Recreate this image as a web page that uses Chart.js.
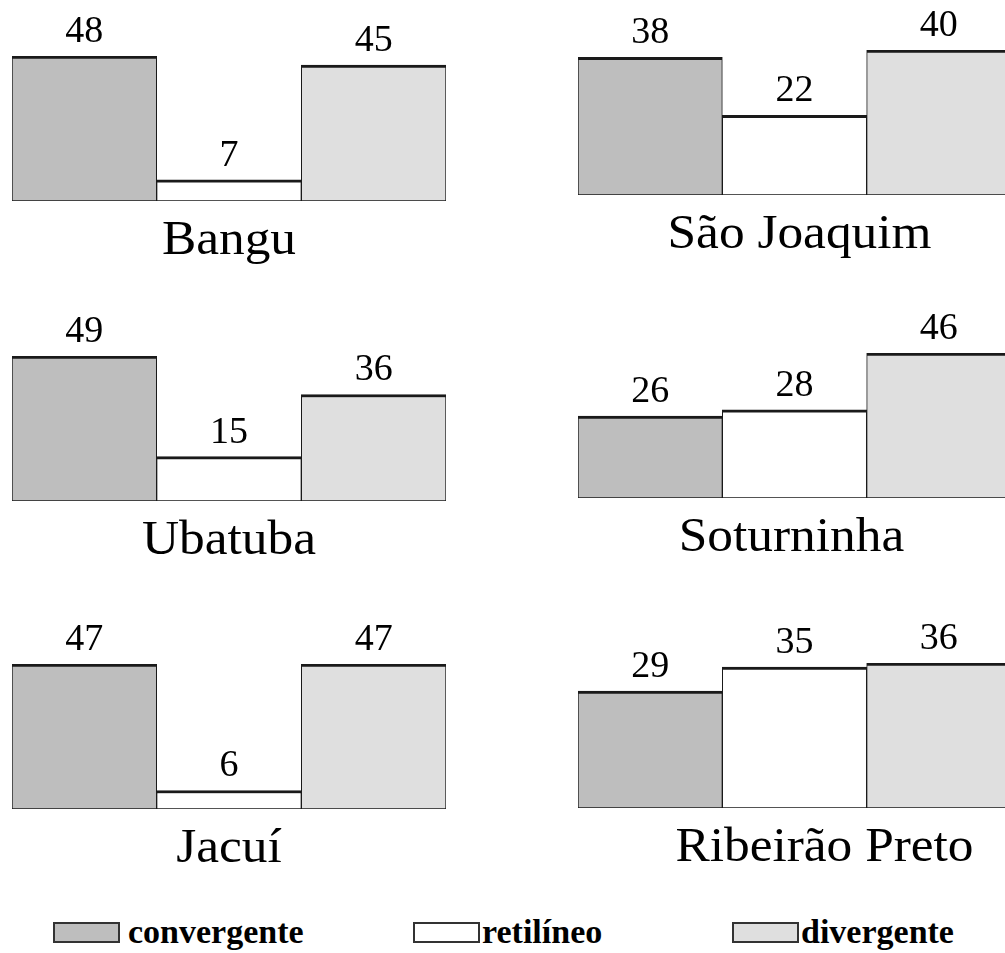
<!DOCTYPE html>
<html>
<head>
<meta charset="utf-8">
<script src="https://cdn.jsdelivr.net/npm/chart.js@4.4.1/dist/chart.umd.min.js"></script>
<style>
    html, body {
        margin: 0;
        padding: 0;
        background: #fff;
        width: 1005px;
        height: 953px;
        overflow: hidden;
        position: relative;
        font-family: "Liberation Serif", "Times New Roman", serif;
    }
    canvas { position: absolute; }
    .key {
        position: absolute;
        top: 922px;
        width: 63px;
        height: 17px;
        border: 2px solid #333;
    }
    .keytext {
        position: absolute;
        top: 912px;
        font-weight: bold;
        font-size: 34px;
        line-height: 40px;
        color: #000;
    }
</style>
</head>
<body>

<canvas id="p0" width="434" height="270"></canvas>
<canvas id="p1" width="433" height="270"></canvas>
<canvas id="p2" width="434" height="270"></canvas>
<canvas id="p3" width="433" height="270"></canvas>
<canvas id="p4" width="434" height="270"></canvas>
<canvas id="p5" width="433" height="270"></canvas>

<div class="key" style="left:53px;background:#bebebe"></div>
<div class="keytext" style="left:128px">convergente</div>
<div class="key" style="left:413px;background:#fff"></div>
<div class="keytext" style="left:482px">retilíneo</div>
<div class="key" style="left:732px;background:#dfdfdf"></div>
<div class="keytext" style="left:801px">divergente</div>

<script>
// dados por localidade
const cities = ["Bangu", "São Joaquim", "Ubatuba", "Soturninha", "Jacuí", "Ribeirão Preto"];
const categories = ["convergente", "retilíneo", "divergente"];
const convergente = [48, 38, 49, 26, 47, 29];
const retilineo = [7, 22, 15, 28, 6, 35];
const divergente = [45, 40, 36, 46, 47, 36];

const barColors = ["#bebebe", "#ffffff", "#dfdfdf"];

// posição de cada painel (esquerda, linha de base, deslocamento do nome)
const panelLeft = [12, 578, 12, 578, 12, 578];
const panelBase = [201, 195, 501, 498, 809, 808];
const nameShift = [0, 5, 0, -3, 0, 30];

const PAD_TOP = 55;
const PLOT_H = 145;

const labelPlugin = {
    id: "barLabels",
    afterDatasetsDraw(chart, args, opts) {
        const ctx = chart.ctx;
        const meta = chart.getDatasetMeta(0);
        ctx.save();
        ctx.fillStyle = "#000";
        ctx.textAlign = "center";
        ctx.textBaseline = "alphabetic";
        ctx.font = '38px "Liberation Serif"';
        meta.data.forEach((bar, i) => {
            const v = chart.data.datasets[0].data[i];
            ctx.fillText(String(v), bar.x, bar.y - 14);
        });
        // nome da localidade, um pouco esticado na horizontal
        const area = chart.chartArea;
        ctx.translate((area.left + area.right) / 2 + opts.shift, area.bottom + 53);
        ctx.scale(1.07, 1);
        ctx.font = '48px "Liberation Serif"';
        ctx.fillText(opts.name, 0, 0);
        ctx.restore();
    },
};

function createPanel(i) {
    const canvas = document.getElementById("p" + i);
    canvas.style.left = panelLeft[i] + "px";
    canvas.style.top = (panelBase[i] - PAD_TOP - PLOT_H) + "px";
    const values = [convergente[i], retilineo[i], divergente[i]];

    new Chart(canvas.getContext("2d"), {
        type: "bar",
        data: {
            labels: categories,
            datasets: [
                {
                    data: values,
                    backgroundColor: barColors,
                    borderColor: "#1a1a1a",
                    borderWidth: { top: 3, left: 1, right: 1, bottom: 1 },
                    borderSkipped: false,
                    categoryPercentage: 1,
                    barPercentage: 1,
                },
            ],
        },
        options: {
            responsive: false,
            animation: false,
            layout: {
                padding: { top: PAD_TOP, bottom: 270 - PAD_TOP - PLOT_H, left: 0, right: 0 },
            },
            scales: {
                x: { display: false },
                y: { display: false, min: 0, max: Math.max(...values) },
            },
            plugins: {
                legend: { display: false },
                tooltip: { enabled: false },
                barLabels: { name: cities[i], shift: nameShift[i] },
            },
        },
        plugins: [labelPlugin],
    });
}

for (let i = 0; i < cities.length; i++) {
    createPanel(i);
}
</script>
</body>
</html>
